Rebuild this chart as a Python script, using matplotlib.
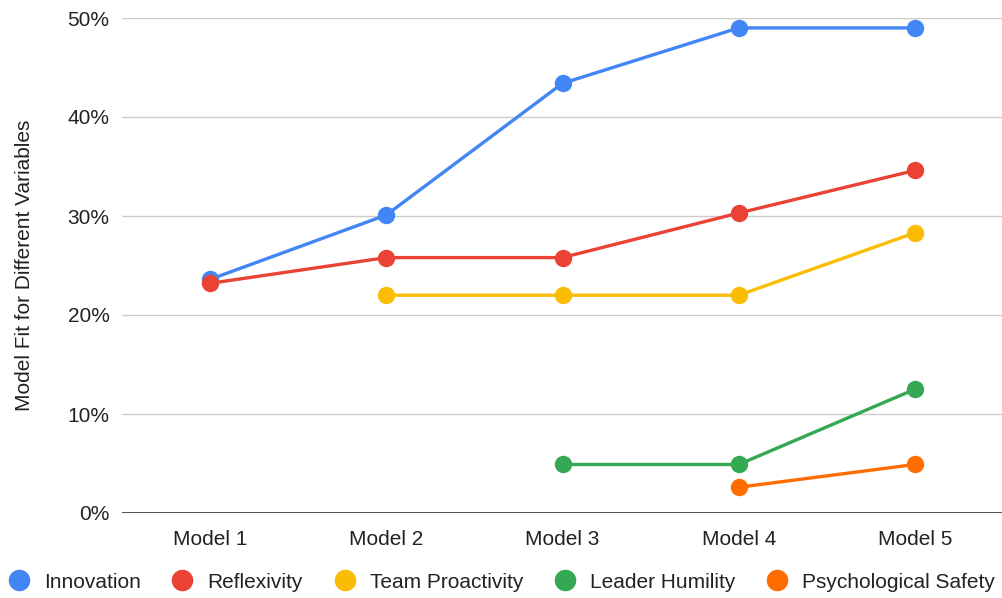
import numpy as np
import matplotlib
matplotlib.use("Agg")
import matplotlib.pyplot as plt
from matplotlib.lines import Line2D
from matplotlib.ticker import FuncFormatter

plt.rcParams['font.family'] = ['Liberation Sans', 'DejaVu Sans']

models = ["Model 1", "Model 2", "Model 3", "Model 4", "Model 5"]
innovation = [23.6, 30.1, 43.4, 49.0, 49.0]
reflexivity = [23.2, 25.8, 25.8, 30.3, 34.6]
team_proactivity = [np.nan, 22.0, 22.0, 22.0, 28.3]
leader_humility = [np.nan, np.nan, 4.9, 4.9, 12.5]
psych_safety = [np.nan, np.nan, np.nan, 2.6, 4.9]

series = [
    ("Innovation", innovation, "#4285F4"),
    ("Reflexivity", reflexivity, "#EA4335"),
    ("Team Proactivity", team_proactivity, "#FBBC04"),
    ("Leader Humility", leader_humility, "#34A853"),
    ("Psychological Safety", psych_safety, "#FF6D01"),
]

FS = 15
TXT = "#222222"

fig = plt.figure(figsize=(10.03, 5.98), dpi=100)
ax = fig.add_axes([122 / 1003, 1 - 513 / 598, 881 / 1003, 495 / 598])

x = np.arange(len(models))
handles = []
for name, vals, color in series:
    ax.plot(x, vals, color=color, lw=2.4, marker="o", ms=11.5, zorder=3)
    handles.append(Line2D([], [], ls="none", marker="o", ms=14.5, color=color, label=name))

ax.set_xlim(-0.5, len(models) - 0.5)
ax.set_ylim(0, 50)
ax.set_yticks([0, 10, 20, 30, 40, 50])
ax.yaxis.set_major_formatter(FuncFormatter(lambda v, _: f"{v:.0f}%"))
ax.set_xticks(x)
ax.set_xticklabels(models)
ax.tick_params(axis="both", length=0, labelsize=FS, colors=TXT)
ax.tick_params(axis="x", pad=12)
ax.tick_params(axis="y", pad=9)
ax.grid(axis="y", color="#cccccc", lw=1)
ax.set_axisbelow(True)
for s in ax.spines.values():
    s.set_visible(False)
ax.axhline(0, color="#333333", lw=1.2, zorder=2)
ax.set_ylabel("Model Fit for Different Variables", fontsize=FS, color=TXT)
ax.yaxis.set_label_coords(-88 / 881, 0.5)

fig.legend(handles=handles, loc="center", bbox_to_anchor=(0.5, 1 - 582 / 598), ncol=5,
           frameon=False, fontsize=FS, handletextpad=0.7, columnspacing=1.5,
           handlelength=1.0, labelcolor=TXT)

fig.savefig("out.png", dpi=100, facecolor="white")
